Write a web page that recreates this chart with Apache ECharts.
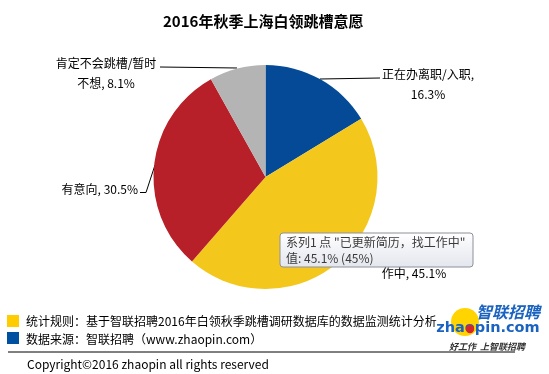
<!DOCTYPE html>
<html><head><meta charset="utf-8">
<script src="https://cdn.jsdelivr.net/npm/echarts@6/dist/echarts.min.js"></script>
<style>html,body{margin:0;padding:0;background:#fff}#c{width:549px;height:374px}</style>
</head><body><div id="c"></div>
<script>
var titleText = '2016年秋季上海白领跳槽意愿';
var categories = ['正在办离职/入职', '已更新简历，找工作中', '有意向', '肯定不会跳槽/暂时不想'];
var values = [16.3, 45.1, 30.5, 8.1];
var breakAt = [9, 8, 0, 9];
var noteRule = '统计规则：基于智联招聘2016年白领秋季跳槽调研数据库的数据监测统计分析';
var noteSource = '数据来源：智联招聘（www.zhaopin.com）';
var copyright = 'Copyright©2016 zhaopin all rights reserved';
var tipSeries = '系列1';

var colors = ['#044A97', '#F3C71C', '#B71F29', '#B4B4B4'];
var FONT = '"Noto Sans CJK SC", "Microsoft YaHei", sans-serif';

var labelPos = [
  {x: 428, y: 84, align: 'center', line: [[320, 79], [350, 78.5], [380, 78]]},
  {x: 414, y: 263, align: 'center', line: null},
  {x: 138, y: 189, align: 'right', line: [[155, 165], [146, 192.5], [140, 192.5]]},
  {x: 106, y: 73, align: 'center', line: [[237, 68], [200, 67.5], [160, 67]]}
];

var data = categories.map(function (c, i) {
  return {name: c, value: values[i], itemStyle: {color: colors[i]},
    labelLine: {show: labelPos[i].line !== null}};
});

var chart = echarts.init(document.getElementById('c'), null, {renderer: 'canvas'});
var yIdx = 1;
var tipX = 280, tipY = 233, tipW = 193, tipH = 34;
chart.setOption({
  animation: false,
  title: {text: titleText, left: 158, top: 9,
    textStyle: {fontFamily: FONT, fontSize: 15, fontWeight: 'bold', color: '#000'}},
  series: [{
    type: 'pie',
    center: [265.5, 177],
    radius: 112,
    startAngle: 90,
    clockwise: true,
    data: data,
    label: {
      show: true,
      fontFamily: FONT, fontSize: 12, color: '#000', lineHeight: 20,
      formatter: function (p) {
        var s = p.name + ', ' + p.value + '%';
        var b = breakAt[p.dataIndex];
        if (b > 0) s = s.slice(0, b) + '\n' + s.slice(b).replace(/^\s+/, '');
        return s;
      }
    },
    labelLine: {show: true, lineStyle: {color: '#000', width: 1}},
    labelLayout: function (p) {
      var lp = labelPos[p.dataIndex];
      var o = {x: lp.x, y: lp.y, align: lp.align, verticalAlign: 'middle'};
      if (lp.line) o.labelLinePoints = lp.line;
      return o;
    },
    emphasis: {disabled: true}
  }],
  graphic: [
    {type: 'group', zlevel: 2, z: 100, children: [
      {type: 'rect', zlevel: 2, shape: {x: tipX, y: tipY, width: tipW, height: tipH, r: 3},
        style: {fill: new echarts.graphic.LinearGradient(0, 0, 0, 1, [
          {offset: 0, color: '#FFFFFF'}, {offset: 1, color: '#E4E6EE'}]),
          stroke: '#8C9099', lineWidth: 1}},
      {type: 'text', zlevel: 2, x: tipX + 6, y: tipY + 9,
        style: {text: tipSeries + ' 点 "' + categories[yIdx] + '"', fontFamily: FONT, fontSize: 12,
          fill: '#3a3a3a', verticalAlign: 'middle'}},
      {type: 'text', zlevel: 2, x: tipX + 6, y: tipY + 25,
        style: {text: '值: ' + values[yIdx] + '% (' + Math.round(values[yIdx]) + '%)', fontFamily: FONT, fontSize: 12,
          fill: '#3a3a3a', verticalAlign: 'middle'}}
    ]},
    {type: 'rect', shape: {x: 7, y: 315, width: 12, height: 12}, style: {fill: '#FFCC00'}},
    {type: 'text', x: 26, y: 321, style: {text: noteRule, fontFamily: FONT, fontSize: 12, fill: '#000', verticalAlign: 'middle'}},
    {type: 'rect', shape: {x: 7, y: 332, width: 12, height: 12}, style: {fill: '#0050A2'}},
    {type: 'text', x: 26, y: 339, style: {text: noteSource, fontFamily: FONT, fontSize: 12, fill: '#000', verticalAlign: 'middle'}},
    {type: 'line', shape: {x1: 8, y1: 352, x2: 515, y2: 352}, style: {stroke: '#000', lineWidth: 1}},
    {type: 'text', x: 27, y: 364, style: {text: copyright, fontFamily: FONT, fontSize: 12, fill: '#000', verticalAlign: 'middle'}},
    {type: 'group', z: 50, children: [
      {type: 'circle', shape: {cx: 465, cy: 322, r: 14}, style: {fill: '#FFD400'}},
      {type: 'text', x: 508, y: 312, style: {text: '智联招聘', fontFamily: FONT, fontSize: 16, fontWeight: 'bold', fontStyle: 'italic', fill: '#1A63C0', align: 'center', verticalAlign: 'middle'}},
      {type: 'text', x: 488, y: 328, style: {text: 'zhaopin.com', fontFamily: '"DejaVu Sans", sans-serif', fontSize: 14.5, fontWeight: 'bold', fill: '#1A63C0', align: 'center', verticalAlign: 'middle'}},
      {type: 'circle', shape: {cx: 470, cy: 329, r: 4.2}, style: {fill: '#D7262A'}},
      {type: 'text', x: 487, y: 347, style: {text: '好工作  上智联招聘', fontFamily: FONT, fontSize: 9, fontWeight: 'bold', fontStyle: 'italic', fill: '#333', align: 'center', verticalAlign: 'middle'}}
    ]}
  ]
});
</script></body></html>
